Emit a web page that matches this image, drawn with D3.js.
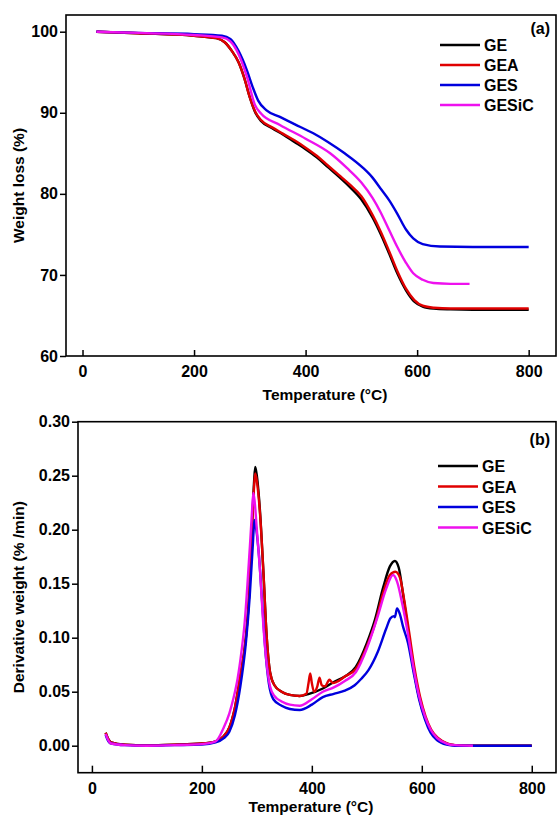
<!DOCTYPE html>
<html>
<head>
<meta charset="utf-8">
<script src="https://cdn.jsdelivr.net/npm/d3@7"></script>
<style>
    body { margin: 0; background: #fff; }
    text { font-family: "Liberation Sans", Arial, sans-serif; font-weight: bold; fill: #000; }
    .tick text { font-size: 16px; }
    .tick line { stroke: #000; stroke-width: 1.5; }
    .axisLabel { font-size: 15.5px; }
    .legendLabel { font-size: 16px; }
    .line { fill: none; stroke-width: 2.4; }
</style>
</head>
<body>
<div id="chart"></div>
<script>
// Series names
const seriesNames = ["GE", "GEA", "GES", "GESiC"]

// TGA: [temperature °C, weight %]
const tgaGE = [[25,100],[100,99.8],[200,99.5],[240,99.2],[255,98.7],[268,97.6],[280,96.2],[290,94.3],[300,91.9],[310,90.0],[320,89.0],[340,88.1],[360,87.3],[380,86.4],[400,85.5],[420,84.5],[440,83.3],[460,82.1],[480,80.8],[500,79.3],[520,77.1],[535,75.0],[550,72.6],[565,70.1],[580,68.1],[595,66.7],[610,66.1],[630,65.85],[660,65.75],[700,65.7],[800,65.7]]
const tgaGEA = [[25,100],[100,99.8],[200,99.5],[240,99.2],[255,98.7],[268,97.6],[280,96.2],[290,94.3],[300,91.9],[310,90.1],[320,89.1],[340,88.2],[360,87.4],[380,86.6],[400,85.7],[420,84.7],[440,83.5],[460,82.3],[480,81.1],[500,79.7],[520,77.4],[535,75.3],[550,72.9],[565,70.4],[580,68.3],[595,66.9],[610,66.2],[630,65.95],[660,65.85],[700,65.85],[800,65.85]]
const tgaGES = [[25,100],[100,99.85],[200,99.7],[250,99.5],[265,99.1],[280,97.6],[295,95.2],[305,93.2],[315,91.5],[330,90.3],[354,89.5],[380,88.6],[413,87.5],[440,86.4],[470,85.0],[503,83.2],[520,82.0],[534,80.7],[550,79.2],[564,77.6],[580,75.6],[593,74.5],[610,73.8],[641,73.5],[700,73.45],[800,73.45]]
const tgaGESiC = [[25,100],[100,99.85],[200,99.6],[250,99.3],[265,98.8],[280,97.2],[295,94.4],[309,91.0],[320,89.9],[354,88.5],[400,86.8],[444,85.0],[474,83.2],[500,81.4],[520,79.5],[534,77.8],[550,75.5],[564,73.5],[580,71.5],[593,70.2],[610,69.4],[629,69.0],[660,68.9],[694,68.9]]

// DTG: [temperature °C, derivative weight %/min]
const dtgGE = [[25,0.012],[28,0.008],[35,0.003],[60,0.001],[100,0.0005],[150,0.001],[200,0.002],[225,0.004],[240,0.009],[250,0.017],[260,0.035],[270,0.065],[280,0.1],[286,0.14],[291,0.2],[295,0.245],[297,0.258],[300,0.25],[306,0.215],[312,0.16],[318,0.1],[324,0.068],[332,0.056],[345,0.05],[360,0.047],[378,0.046],[395,0.048],[420,0.053],[440,0.059],[460,0.064],[480,0.073],[500,0.095],[515,0.117],[530,0.147],[542,0.166],[551,0.171],[558,0.165],[566,0.14],[575,0.107],[585,0.072],[595,0.045],[605,0.027],[615,0.015],[628,0.007],[645,0.002],[660,0.0005],[700,0],[800,0]]
const dtgGEA = [[25,0.012],[28,0.008],[35,0.003],[60,0.001],[100,0.0005],[150,0.001],[200,0.002],[225,0.004],[240,0.009],[250,0.017],[260,0.035],[270,0.065],[280,0.1],[286,0.14],[291,0.2],[295,0.24],[297,0.252],[300,0.245],[306,0.213],[312,0.16],[318,0.1],[324,0.068],[332,0.056],[345,0.05],[360,0.047],[378,0.046],[390,0.048],[394,0.058],[397,0.067],[400,0.058],[404,0.05],[410,0.055],[414,0.063],[418,0.056],[424,0.055],[432,0.061],[438,0.058],[445,0.059],[460,0.064],[480,0.071],[500,0.092],[515,0.113],[530,0.142],[542,0.158],[552,0.161],[560,0.156],[568,0.135],[577,0.105],[587,0.071],[597,0.045],[607,0.027],[617,0.015],[630,0.007],[647,0.002],[662,0.0005],[700,0],[800,0]]
const dtgGES = [[25,0.01],[28,0.006],[35,0.002],[60,0.0005],[100,0],[150,0.0005],[200,0.001],[225,0.003],[240,0.007],[250,0.013],[260,0.028],[270,0.055],[280,0.095],[287,0.138],[292,0.18],[296,0.209],[299,0.2],[304,0.175],[310,0.13],[316,0.085],[322,0.057],[330,0.043],[345,0.037],[360,0.034],[378,0.033],[400,0.038],[420,0.045],[440,0.048],[460,0.051],[478,0.056],[490,0.062],[503,0.07],[520,0.087],[535,0.108],[543,0.118],[549,0.12],[551,0.119],[555,0.127],[560,0.122],[566,0.11],[575,0.095],[585,0.068],[595,0.043],[606,0.024],[616,0.012],[628,0.005],[645,0.001],[660,0],[800,0]]
const dtgGESiC = [[25,0.011],[28,0.007],[35,0.002],[60,0.0005],[100,0],[150,0.0005],[200,0.0015],[225,0.004],[240,0.017],[250,0.03],[258,0.045],[265,0.062],[272,0.087],[278,0.115],[283,0.15],[288,0.19],[291,0.215],[293.5,0.234],[296,0.226],[300,0.2],[306,0.16],[312,0.11],[318,0.075],[324,0.055],[332,0.046],[345,0.041],[360,0.038],[378,0.037],[400,0.043],[420,0.05],[440,0.054],[460,0.06],[480,0.068],[500,0.09],[520,0.12],[535,0.145],[547.7,0.158],[555,0.152],[565,0.13],[575,0.103],[585,0.072],[595,0.046],[606,0.027],[616,0.015],[628,0.007],[645,0.002],[660,0.0005],[693,0]]

// Tick values
const tempTicks = [0, 200, 400, 600, 800]
const weightTicks = [60, 70, 80, 90, 100]
const derivTicks = [0, 0.05, 0.10, 0.15, 0.20, 0.25, 0.30]

const colors = ["#000000", "#e00000", "#0000dd", "#ee11ee"]

const width = 557
const height = 819

const svg = d3.select("div#chart").append("svg")
            .attr("width", width)
            .attr("height", height)

// Draw one panel
function panel(opts) {
    const x = d3.scaleLinear().domain(opts.xDomain).range([opts.left, opts.right])
    const y = d3.scaleLinear().domain(opts.yDomain).range([opts.bottom, opts.top])

    const g = svg.append("g").attr("id", opts.id)

    // Axes
    const xAxis = d3.axisBottom(x).tickValues(tempTicks).tickSize(-opts.xTick).tickPadding(10).tickFormat(d3.format("d"))
    const yAxis = d3.axisLeft(y).tickValues(opts.yTicks).tickSize(6).tickPadding(2).tickFormat(opts.yFormat)

    g.append("g").attr("transform", `translate(0 ${opts.bottom})`).call(xAxis)
        .call(a => a.select(".domain").remove())
    g.append("g").attr("transform", `translate(${opts.left} 0)`).call(yAxis)
        .call(a => a.select(".domain").remove())

    // Lines
    const line = d3.line().x(d => x(d[0])).y(d => y(d[1])).curve(d3.curveMonotoneX)
    opts.series.forEach((s, i) => {
        g.append("path").datum(s)
            .attr("class", "line")
            .attr("stroke", colors[i])
            .attr("d", line)
    })

    // Frame
    g.append("rect")
        .attr("x", opts.left).attr("y", opts.top)
        .attr("width", opts.right - opts.left).attr("height", opts.bottom - opts.top)
        .attr("fill", "none").attr("stroke", "#000").attr("stroke-width", 1.6)

    // Legend
    seriesNames.forEach((n, i) => {
        const ly = opts.legendY + i * opts.legendStep
        g.append("line")
            .attr("x1", opts.legendX).attr("x2", opts.legendX + 40)
            .attr("y1", ly).attr("y2", ly)
            .attr("stroke", colors[i]).attr("stroke-width", 2.5)
        g.append("text").attr("class", "legendLabel")
            .attr("x", opts.legendX + 44).attr("y", ly + 6)
            .text(n)
    })

    g.append("text").attr("class", "legendLabel")
        .attr("x", 550).attr("y", opts.tagY)
        .attr("text-anchor", "end")
        .text(opts.tag)

    // Axis labels
    g.append("text").attr("class", "axisLabel")
        .attr("text-anchor", "middle")
        .attr("x", opts.xLabelX).attr("y", opts.xLabelY)
        .text("Temperature (°C)")
    g.append("text").attr("class", "axisLabel")
        .attr("text-anchor", "middle")
        .attr("transform", `translate(24 ${(opts.top + opts.bottom) / 2}) rotate(-90)`)
        .text(opts.yLabel)
}

panel({
    id: "panelA",
    left: 66, right: 556, top: 15, bottom: 356,
    xDomain: [-29.6, 849], yDomain: [60, 102.06],
    yTicks: weightTicks, yFormat: d3.format("d"), xTick: 6,
    series: [tgaGE, tgaGEA, tgaGES, tgaGESiC],
    legendX: 440, legendY: 45, legendStep: 20,
    tag: "(a)", tagY: 34,
    xLabelX: 325, xLabelY: 400,
    yLabel: "Weight loss (%)"
})

panel({
    id: "panelB",
    left: 78, right: 556, top: 421.7, bottom: 772.7,
    xDomain: [-25.3, 844.1], yDomain: [-0.025, 0.30],
    yTicks: derivTicks, yFormat: d3.format(".2f"), xTick: 7,
    series: [dtgGE, dtgGEA, dtgGES, dtgGESiC],
    legendX: 438, legendY: 466, legendStep: 20.5,
    tag: "(b)", tagY: 445,
    xLabelX: 311, xLabelY: 812,
    yLabel: "Derivative weight (% /min)"
})
</script>
</body>
</html>
